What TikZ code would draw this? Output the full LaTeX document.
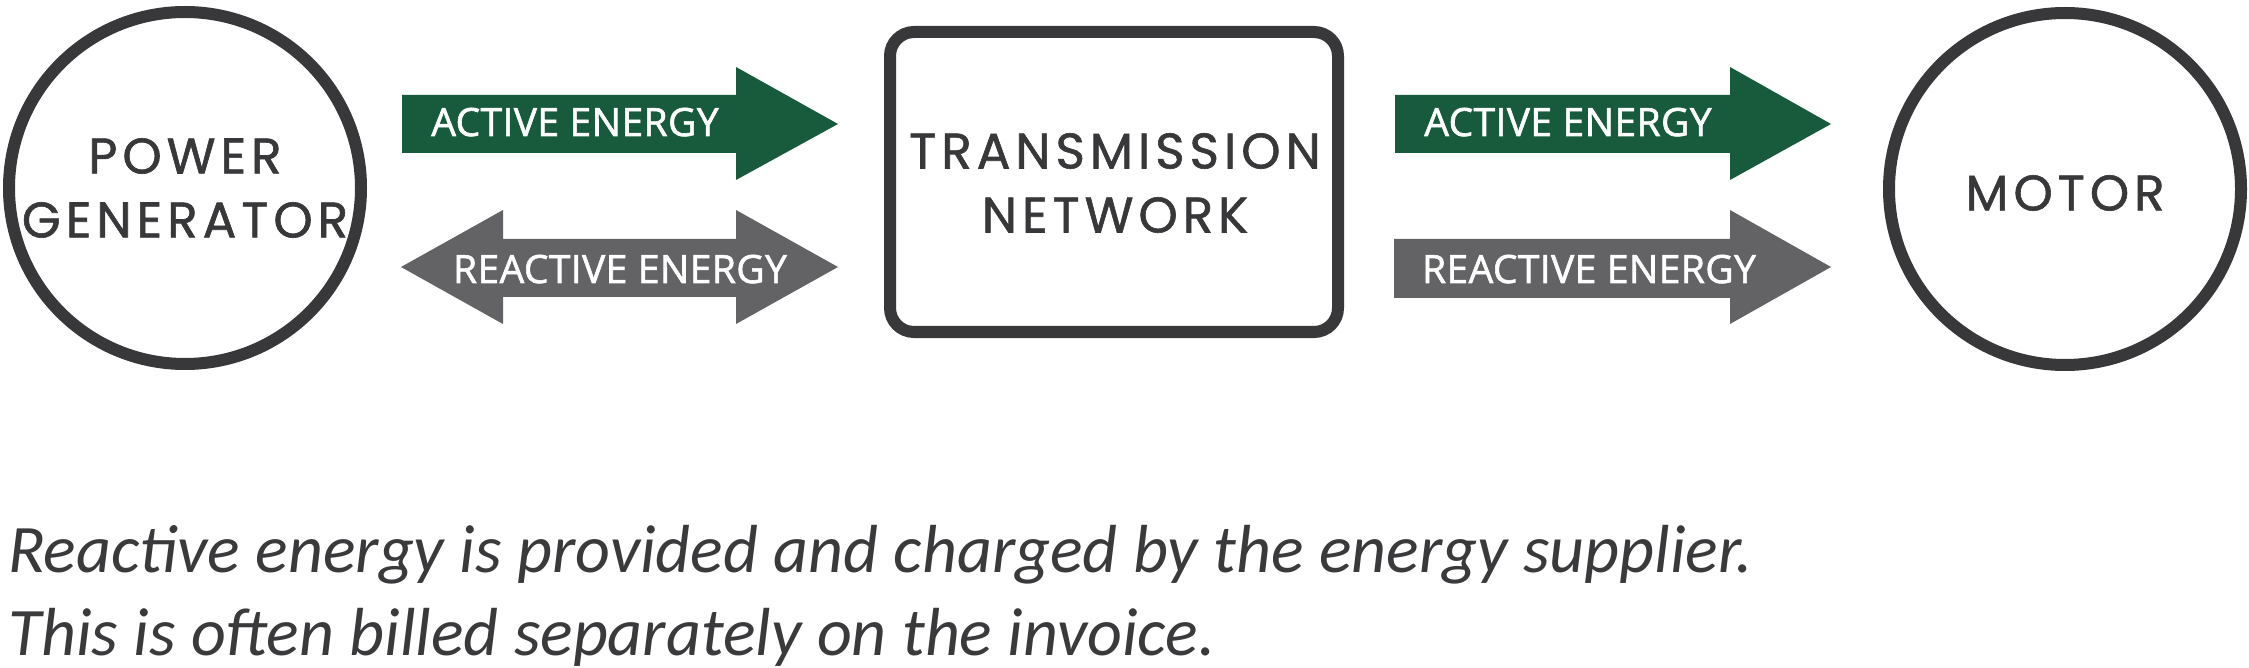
\documentclass[tikz,border=0pt]{standalone}
\usepackage{fontspec}
\setmainfont{Open Sans}
\newfontfamily\geofont[LetterSpace=10,FakeBold=1.2]{Poppins}
\newfontfamily\arrowfont[FakeBold=1.5,LetterSpace=1]{Open Sans}
\newfontfamily\notefont{Carlito}
\definecolor{outline}{HTML}{38373A}
\definecolor{actgreen}{HTML}{175A3C}
\definecolor{reagray}{HTML}{636366}
\definecolor{notegray}{HTML}{3A393C}
\begin{document}
\begin{tikzpicture}[x=1pt,y=-1pt,
  unitcircle/.style={draw=outline,line width=12pt,fill=white,circle,minimum size=352pt,inner sep=0pt},
  unitbox/.style={draw=outline,line width=12pt,rounded corners=24pt},
  biglabel/.style={text=outline,align=center,inner sep=0pt,font=\geofont\fontsize{50}{64}\selectfont},
  arrowlabel/.style={text=white,inner sep=0pt,anchor=base,font=\arrowfont\fontsize{39}{46}\selectfont},
  notetext/.style={text=notegray,inner sep=0pt,anchor=base west,font=\notefont\itshape\fontsize{68}{83}\selectfont}]
\useasboundingbox (0,0) rectangle (2249,668);
\fill[white] (0,0) rectangle (2249,668);
% nodes
\node[unitcircle] (gen) at (185,188) {};
\node[biglabel] (genlbl) at (185,188) {POWER\\GENERATOR};
\draw[unitbox] (890,32) rectangle (1338,332);
\node[biglabel] (net) at (1115,183) {TRANSMISSION\\NETWORK};
\node[unitcircle] (mot) at (2065,189) {};
\node[biglabel] (motlbl) at (2065,193) {MOTOR};
% arrows left
\fill[actgreen] (402,95) -- (736,95) -- (736,67) -- (838,124) -- (736,180) -- (736,153) -- (402,153) -- cycle;
\node[arrowlabel] (act1) at (575,136) {ACTIVE ENERGY};
\fill[reagray] (401,267) -- (503,210) -- (503,239) -- (736,239) -- (736,210) -- (838,267) -- (736,324) -- (736,297) -- (503,297) -- (503,324) -- cycle;
\node[arrowlabel] (rea1) at (620,283) {REACTIVE ENERGY};
% arrows right
\fill[actgreen] (1395,95) -- (1730,95) -- (1730,67) -- (1831,124) -- (1730,180) -- (1730,153) -- (1395,153) -- cycle;
\node[arrowlabel] (act2) at (1568,136) {ACTIVE ENERGY};
\fill[reagray] (1394,239) -- (1730,239) -- (1730,210) -- (1831,267) -- (1730,324) -- (1730,298) -- (1394,298) -- cycle;
\node[arrowlabel] (rea2) at (1589,283) {REACTIVE ENERGY};
% note
\node[notetext] (note1) at (8,572) {Reactive energy is provided and charged by the energy supplier.};
\node[notetext] (note2) at (8,655) {This is often billed separately on the invoice.};
\end{tikzpicture}
\end{document}
